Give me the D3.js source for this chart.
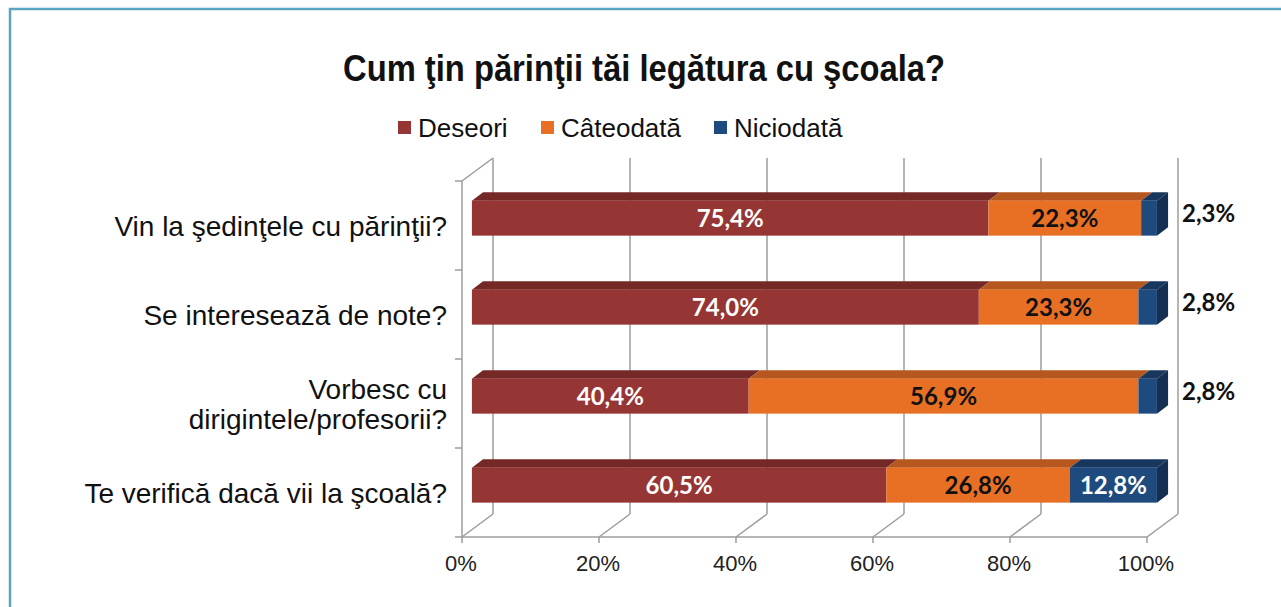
<!DOCTYPE html>
<html>
<head>
<meta charset="utf-8">
<script src="https://cdn.jsdelivr.net/npm/d3@7"></script>
<style>
  body { margin: 0; background: #fff; }
  svg { display: block; }
</style>
</head>
<body>
<svg id="chart"></svg>
<script>
const categories = [
  ["Vin la şedinţele cu părinţii?"],
  ["Se interesează de note?"],
  ["Vorbesc cu", "dirigintele/profesorii?"],
  ["Te verifică dacă vii la şcoală?"]
];
const seriesNames = ["Deseori", "Câteodată", "Niciodată"];
const deseori = [75.4, 74.0, 40.4, 60.5];
const cateodata = [22.3, 23.3, 56.9, 26.8];
const niciodata = [2.3, 2.8, 2.8, 12.8];
const ticks = [0, 20, 40, 60, 80, 100];

const W = 1281, H = 607;
const svg = d3.select("#chart").attr("width", W).attr("height", H);

// frame
svg.append("rect")
  .attr("x", 10).attr("y", 9)
  .attr("width", W + 20).attr("height", H + 20)
  .attr("fill", "none")
  .attr("stroke", "#5ba4be")
  .attr("stroke-width", 2.5);

// title (condensed look)
svg.append("text")
  .attr("x", 343).attr("y", 81)
  .attr("font-family", "'Liberation Sans', Arial, sans-serif")
  .attr("font-weight", "bold")
  .attr("font-size", "36px")
  .attr("fill", "#111")
  .attr("textLength", 602)
  .attr("lengthAdjust", "spacingAndGlyphs")
  .text("Cum ţin părinţii tăi legătura cu şcoala?");

const colors = {
  front: ["#963634", "#e87025", "#1f4a7e"],
  top: ["#742927", "#b6571f", "#17375f"],
  side: ["#6a2523", "#a84f1b", "#142f52"]
};

// legend
const legendX = [398, 541, 714];
const legend = svg.append("g").attr("font-family", "'Liberation Sans', Arial, sans-serif").attr("font-size", "26px");
seriesNames.forEach((n, i) => {
  legend.append("rect")
    .attr("x", legendX[i]).attr("y", 121).attr("width", 13).attr("height", 13)
    .attr("fill", colors.front[i]);
  legend.append("text")
    .attr("x", legendX[i] + 20).attr("y", 137)
    .attr("fill", "#111")
    .text(n);
});

// 3D geometry: front plane and back plane offsets
const depthX = 31, depthY = -23;
const x = d3.scaleLinear().domain([0, 100]).range([462, 1147]);
const y = d3.scaleBand().domain(d3.range(categories.length)).range([181, 537]);

const grid = svg.append("g")
  .attr("stroke", "#9c9c9c")
  .attr("stroke-width", 1.5)
  .attr("fill", "none");

// back wall gridlines
ticks.forEach(t => {
  const px = x(t) + depthX;
  grid.append("line")
    .attr("x1", px).attr("x2", px)
    .attr("y1", 181 + depthY).attr("y2", 537 + depthY);
  // floor diagonal
  grid.append("line")
    .attr("x1", x(t)).attr("y1", 537)
    .attr("x2", px).attr("y2", 537 + depthY);
  // tick
  grid.append("line")
    .attr("x1", x(t)).attr("x2", x(t))
    .attr("y1", 537).attr("y2", 543);
});
// floor front edge
grid.append("line")
  .attr("x1", x(0) - 7).attr("x2", x(100))
  .attr("y1", 537).attr("y2", 537);
// left wall front edge
grid.append("line")
  .attr("x1", x(0)).attr("x2", x(0))
  .attr("y1", 181).attr("y2", 537);
grid.append("line")
  .attr("x1", x(0)).attr("y1", 181)
  .attr("x2", x(0) + depthX).attr("y2", 181 + depthY);
d3.range(categories.length).forEach(i => {
  grid.append("line")
    .attr("x1", x(0) - 7).attr("x2", x(0))
    .attr("y1", y(i)).attr("y2", y(i));
});

// x axis labels
svg.append("g")
  .attr("font-family", "'Liberation Sans', Arial, sans-serif")
  .attr("font-size", "22px")
  .attr("fill", "#222")
  .attr("text-anchor", "middle")
  .selectAll("text")
  .data(ticks)
  .join("text")
  .attr("x", d => x(d) - 1)
  .attr("y", 571)
  .text(d => d + "%");

// category labels
const catG = svg.append("g")
  .attr("font-family", "'Liberation Sans', Arial, sans-serif")
  .attr("font-size", "28px")
  .attr("fill", "#111")
  .attr("text-anchor", "end");
categories.forEach((lines, i) => {
  const cy = y(i) + y.bandwidth() / 2;
  const t = catG.append("text").attr("x", 447).attr("y", cy + 10 - (lines.length - 1) * 15);
  lines.forEach((l, j) => {
    t.append("tspan").attr("x", 447).attr("dy", j === 0 ? 0 : 30).text(l);
  });
});

// bars
const d0 = 0.32, d1 = 0.68;
const barH = 35;
const fmt = v => d3.format(".1f")(v).replace(".", ",") + "%";
const rows = categories.map((c, i) => [deseori[i], cateodata[i], niciodata[i]]);
const bars = svg.append("g");
const labels = svg.append("g")
  .attr("font-family", "Lato, 'Open Sans', sans-serif")
  .attr("font-weight", "bold")
  .attr("font-size", "24px");

rows.forEach((vals, i) => {
  const fy = y(i) + y.bandwidth() / 2 + d0 * depthY - barH / 2;
  const ox = depthX * d0;
  const tdx = depthX * (d1 - d0), tdy = depthY * (d1 - d0);
  let acc = 0;
  vals.forEach((v, k) => {
    const xa = x(Math.min(acc, 100)) + ox;
    const xb = x(Math.min(acc + v, 100)) + ox;
    bars.append("polygon")
      .attr("points", [[xa, fy], [xb, fy], [xb + tdx, fy + tdy], [xa + tdx, fy + tdy]].join(" "))
      .attr("fill", colors.top[k]);
    bars.append("rect")
      .attr("x", xa).attr("y", fy)
      .attr("width", xb - xa).attr("height", barH)
      .attr("fill", colors.front[k]);
    if (k === vals.length - 1) {
      bars.append("polygon")
        .attr("points", [[xb, fy], [xb + tdx, fy + tdy], [xb + tdx, fy + tdy + barH], [xb, fy + barH]].join(" "))
        .attr("fill", colors.side[k]);
    }
    const inside = v > 5;
    if (inside) {
      labels.append("text")
        .attr("x", (xa + xb) / 2)
        .attr("y", fy + barH / 2)
        .attr("dy", "0.35em")
        .attr("text-anchor", "middle")
        .attr("fill", k === 1 ? "#111" : "#fff")
        .text(fmt(v));
    } else {
      labels.append("text")
        .attr("x", xb + tdx + 14)
        .attr("y", fy + (tdy + barH) / 2)
        .attr("dy", "0.35em")
        .attr("fill", "#111")
        .text(fmt(v));
    }
    acc += v;
  });
});
</script>
</body>
</html>
